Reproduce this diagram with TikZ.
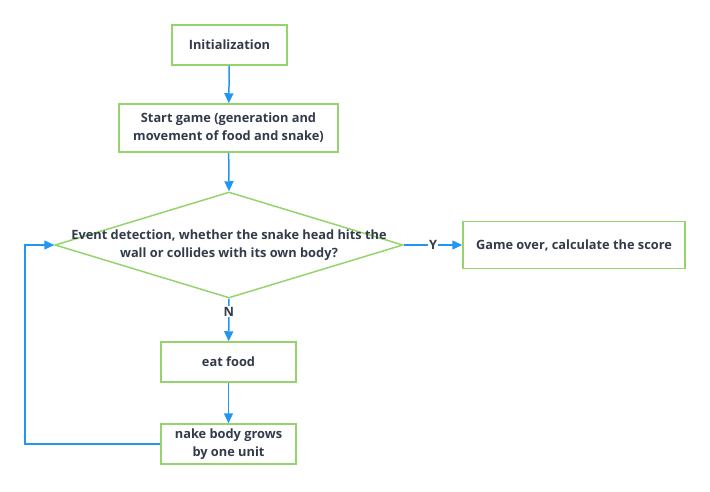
\documentclass[tikz,border=0pt]{standalone}
\usepackage{fontspec}
\setmainfont{Open Sans}
\usetikzlibrary{shapes.geometric,arrows.meta}
\definecolor{boxgreen}{HTML}{95D46C}
\definecolor{flowblue}{HTML}{2196F3}
\definecolor{textgray}{HTML}{333B4A}
\tikzset{
  stepbox/.style={draw=boxgreen, line width=1.5pt, fill=white, inner sep=0pt,
    align=center, text=textgray, font=\fontsize{12.8}{18}\selectfont\bfseries},
  decision/.style={draw=boxgreen, line width=1.5pt, diamond, inner sep=0pt,
    minimum width=348pt, minimum height=106pt},
  flow/.style={draw=flowblue, line width=1.5pt, -{Triangle[length=10pt,width=9pt]}},
  tag/.style={text=textgray, font=\fontsize{12.8}{14}\selectfont\bfseries, inner sep=1pt}
}
\begin{document}
\begin{tikzpicture}[x=1pt,y=-1pt]
\useasboundingbox (0,0) rectangle (710,491);

% blocos
	\node[stepbox, minimum width=115pt, minimum height=40pt] (init) at (229.5,45) {Initialization};
	\node[stepbox, minimum width=219pt, minimum height=48pt] (start) at (228.5,128)
		{Start game (generation and\\movement of food and snake)};
	\node[decision] (detect) at (229,245) {};
	\node[stepbox, draw=none, fill=none] (question) at (detect.center)
		{Event detection, whether the snake head hits the\\wall or collides with its own body?};
	\node[stepbox, minimum width=222pt, minimum height=47pt] (over) at (574,245) {Game over, calculate the score};
	\node[stepbox, minimum width=135pt, minimum height=40pt] (eat) at (228.5,362) {eat food};
	\node[stepbox, minimum width=135pt, minimum height=40pt] (grow) at (228.5,444) {nake body grows\\by one unit};
	\coordinate (loop) at (25,444);

% ligacoes
	\draw[flow] (init) -- (start);
	\draw[flow] (start) -- (detect.north);
	\draw[flow] (detect.east) -- node[tag, fill=white] {Y} (over);
	\draw[flow] (detect.south) -- node[tag, fill=white, pos=0.3] {N} (eat);
	\draw[flow] (eat) -- (grow);
	\draw[flow] (grow.west) -- (loop) |- (detect.west);
\end{tikzpicture}
\end{document}
